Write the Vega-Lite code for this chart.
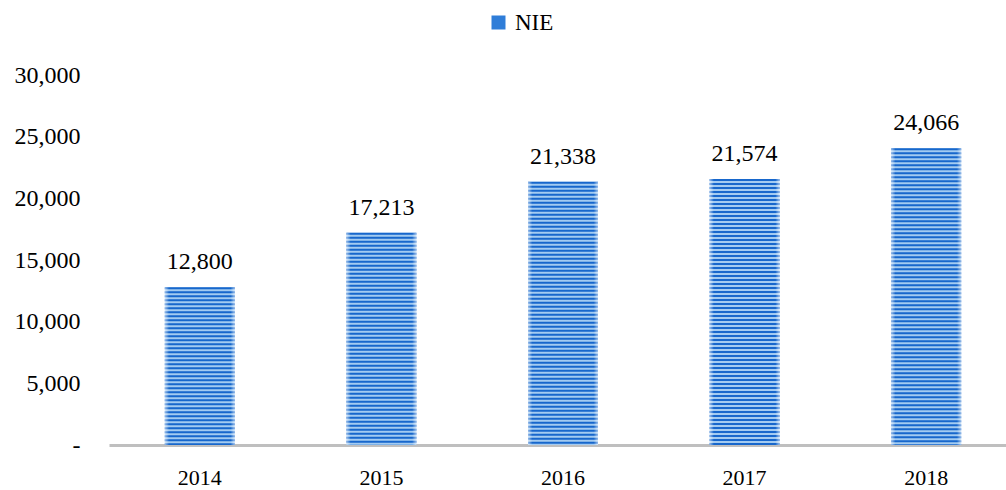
{
  "$schema": "https://vega.github.io/schema/vega-lite/v6.json",
  "autosize": {"type": "none"},
  "width": 908,
  "height": 370,
  "padding": {"left": 109, "top": 75, "right": 0, "bottom": 45},
  "background": "white",
  "config": {
    "view": {"stroke": null},
    "font": "Liberation Serif",
    "axis": {"labelFont": "Liberation Serif", "labelColor": "#000000", "grid": false, "ticks": false, "title": null}
  },
  "data": {
    "values": [
      {"year": "2014", "value": 12800, "series": "NIE"},
      {"year": "2015", "value": 17213, "series": "NIE"},
      {"year": "2016", "value": 21338, "series": "NIE"},
      {"year": "2017", "value": 21574, "series": "NIE"},
      {"year": "2018", "value": 24066, "series": "NIE"}
    ]
  },
  "encoding": {
    "x": {
      "field": "year", "type": "nominal", "sort": null,
      "scale": {"paddingInner": 0.615, "paddingOuter": 0.3075},
      "axis": {"labelAngle": 0, "labelFontSize": 22, "labelPadding": 22, "domainColor": "#bfbfbf", "domainWidth": 3}
    },
    "y": {
      "field": "value", "type": "quantitative",
      "scale": {"domain": [0, 30000], "nice": false},
      "axis": {"values": [0, 5000, 10000, 15000, 20000, 25000, 30000], "labelExpr": "datum.value === 0 ? '-' : format(datum.value, ',')", "labelFontSize": 24, "labelPadding": 29, "domain": false}
    }
  },
  "layer": [
    {
      "mark": {"type": "bar", "fill": "#a3cbf1"}
    },
    {
      "mark": {"type": "rule", "strokeWidth": 70, "strokeDash": [2, 2], "strokeCap": "butt"},
      "encoding": {
        "y2": {"datum": 0},
        "color": {
          "field": "series", "type": "nominal",
          "scale": {"range": ["#1767cc"]},
          "legend": {
            "title": null, "orient": "none", "legendX": 378, "legendY": -64, "padding": 0,
            "symbolType": "square", "symbolSize": 196, "symbolFillColor": "#2f7dd8", "symbolStrokeWidth": 0,
            "labelFont": "Liberation Serif", "labelFontSize": 23, "labelColor": "#000000", "labelOffset": 5
          }
        }
      }
    },
    {
      "mark": {
        "type": "bar",
        "fill": {
          "gradient": "linear", "x1": 0, "y1": 0, "x2": 1, "y2": 0,
          "stops": [
            {"offset": 0, "color": "rgba(255,255,255,0.55)"},
            {"offset": 0.06, "color": "rgba(255,255,255,0)"},
            {"offset": 0.94, "color": "rgba(255,255,255,0)"},
            {"offset": 1, "color": "rgba(255,255,255,0.55)"}
          ]
        }
      }
    },
    {
      "mark": {"type": "text", "dy": -18, "baseline": "alphabetic", "fontSize": 24, "font": "Liberation Serif", "color": "#000000"},
      "encoding": {"text": {"field": "value", "type": "quantitative", "format": ","}}
    }
  ]
}
